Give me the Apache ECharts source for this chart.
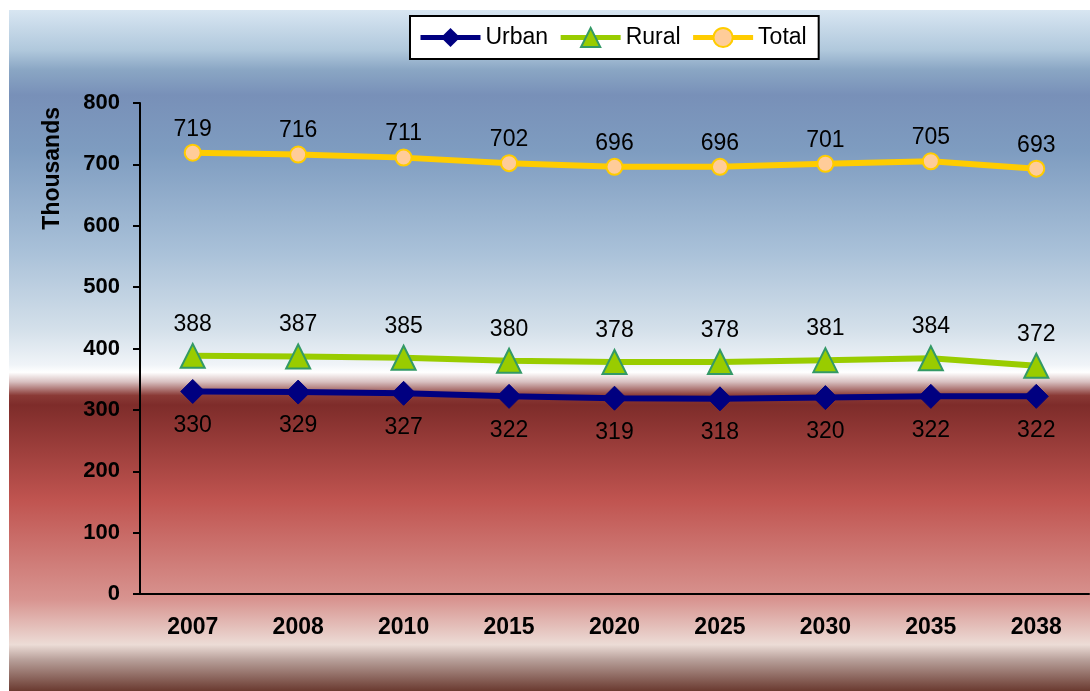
<!DOCTYPE html>
<html>
<head>
<meta charset="utf-8">
<script src="https://cdn.jsdelivr.net/npm/echarts@6/dist/echarts.min.js"></script>
<style>
  html, body { margin: 0; padding: 0; background: #fff; }
  #main { width: 1090px; height: 691px; }
</style>
</head>
<body>
<div id="main"></div>
<script>
const years = ['2007', '2008', '2010', '2015', '2020', '2025', '2030', '2035', '2038'];
const urban = [330, 329, 327, 322, 319, 318, 320, 322, 322];
const rural = [388, 387, 385, 380, 378, 378, 381, 384, 372];
const total = [719, 716, 711, 702, 696, 696, 701, 705, 693];

const myChart = echarts.init(document.getElementById('main'));

// background band, blue on top and red below
const bg = new echarts.graphic.LinearGradient(0, 0, 0, 1, [
  { offset: 0, color: '#d8e6f2' },
  { offset: 0.059, color: '#b0c8dc' },
  { offset: 0.088, color: '#8aa6c4' },
  { offset: 0.125, color: '#7890b8' },
  { offset: 0.206, color: '#7e9cc0' },
  { offset: 0.352, color: '#a8c0d8' },
  { offset: 0.47, color: '#d4e0ea' },
  { offset: 0.521, color: '#f0f4f8' },
  { offset: 0.532, color: '#ffffff' },
  { offset: 0.546, color: '#d8c0c0' },
  { offset: 0.566, color: '#8a3a36' },
  { offset: 0.58, color: '#7e2c2a' },
  { offset: 0.72, color: '#c05450' },
  { offset: 0.866, color: '#d89490' },
  { offset: 0.932, color: '#ecdcd6' },
  { offset: 0.954, color: '#b8a09a' },
  { offset: 1, color: '#6a3a30' }
]);

const labelStyle = {
  show: true,
  color: '#000',
  fontFamily: 'Liberation Sans',
  fontSize: 23
};

const option = {
  animation: false,
  textStyle: { fontFamily: 'Liberation Sans' },
  graphic: [
    {
      type: 'rect',
      z: -10,
      silent: true,
      shape: { x: 9, y: 10, width: 1081, height: 681 },
      style: { fill: bg }
    },
    {
      type: 'text',
      left: 41,
      top: 107,
      rotation: Math.PI / 2,
      style: {
        text: 'Thousands',
        fill: '#000',
        font: 'bold 23px "Liberation Sans"'
      }
    }
  ],
  legend: {
    left: 410,
    top: 16,
    padding: [10, 12, 10, 8],
    itemGap: 10,
    itemWidth: 60,
    itemHeight: 24,
    backgroundColor: '#fff',
    borderColor: '#000',
    borderWidth: 2,
    lineStyle: { width: 5 },
    textStyle: { color: '#000', fontSize: 23, fontFamily: 'Liberation Sans' },
    data: ['Urban', 'Rural', 'Total']
  },
  grid: {
    left: 140,
    right: 1,
    top: 103,
    bottom: 97,
    containLabel: false
  },
  xAxis: {
    type: 'category',
    data: years,
    axisLine: { lineStyle: { color: '#000', width: 2 } },
    axisTick: { length: 8, lineStyle: { color: '#000', width: 2 } },
    axisLabel: {
      color: '#000',
      fontWeight: 'bold',
      fontSize: 23,
      margin: 22
    }
  },
  yAxis: {
    type: 'value',
    min: 0,
    max: 800,
    interval: 100,
    axisLine: { show: true, lineStyle: { color: '#000', width: 2 } },
    axisTick: { show: true, length: 7, lineStyle: { color: '#000', width: 2 } },
    splitLine: { show: false },
    axisLabel: {
      color: '#000',
      fontWeight: 'bold',
      fontSize: 22,
      margin: 20
    }
  },
  series: [
    {
      name: 'Urban',
      type: 'line',
      data: urban,
      symbol: 'diamond',
      symbolSize: 24,
      lineStyle: { color: '#000080', width: 6 },
      itemStyle: { color: '#000080', borderColor: '#000080' },
      label: Object.assign({}, labelStyle, { position: 'bottom', distance: 10 })
    },
    {
      name: 'Rural',
      type: 'line',
      data: rural,
      symbol: 'triangle',
      symbolSize: 24,
      lineStyle: { color: '#99cc00', width: 6 },
      itemStyle: { color: '#99cc00', borderColor: '#339966', borderWidth: 2 },
      label: Object.assign({}, labelStyle, { position: 'top', distance: 7 })
    },
    {
      name: 'Total',
      type: 'line',
      data: total,
      symbol: 'circle',
      symbolSize: 16,
      lineStyle: { color: '#ffcc00', width: 6 },
      itemStyle: { color: '#ffcc99', borderColor: '#ffcc00', borderWidth: 2 },
      label: Object.assign({}, labelStyle, { position: 'top', distance: 3 })
    }
  ]
};

myChart.setOption(option);
</script>
</body>
</html>
